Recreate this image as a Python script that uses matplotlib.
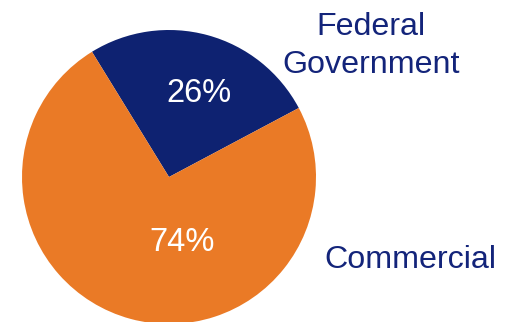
import matplotlib
matplotlib.use("Agg")
import matplotlib.pyplot as plt

# Revenue split by customer segment
segments = ["Federal\nGovernment", "Commercial"]
shares = [26, 74]
colors = ["#0E2271", "#EA7A26"]
label_color = "#13247A"

plt.rcParams["font.family"] = ["Liberation Sans", "DejaVu Sans"]

W, H = 510, 322
fig = plt.figure(figsize=(W / 100, H / 100), dpi=100)
ax = fig.add_axes([0, 0, 1, 1])

center = (169, H - 177)
radius = 147
wedges, texts, autotexts = ax.pie(
    shares,
    colors=colors,
    startangle=28,
    counterclock=True,
    center=center,
    radius=radius,
    autopct=lambda p: f"{p:.0f}%",
    textprops=dict(color="white", fontsize=23.5),
    wedgeprops=dict(linewidth=0),
    frame=True,
)
ax.set_xlim(0, W)
ax.set_ylim(0, H)
ax.set_aspect("equal")
ax.axis("off")

# percentage labels sit inside their wedges (baseline positions)
pct_positions = [(199, H - 102), (182, H - 251)]
for t, pos in zip(autotexts, pct_positions):
    t.set_position(pos)
    t.set_ha("center")
    t.set_va("baseline")

# category labels to the right of the pie
fed_lines = segments[0].split("\n")
ax.text(371, H - 35, fed_lines[0], color=label_color, fontsize=23.2,
        ha="center", va="baseline")
ax.text(371, H - 72.5, fed_lines[1], color=label_color, fontsize=23.2,
        ha="center", va="baseline")
ax.text(410, H - 268, segments[1], color=label_color, fontsize=23.2,
        ha="center", va="baseline")

fig.savefig("out.png", dpi=100)
